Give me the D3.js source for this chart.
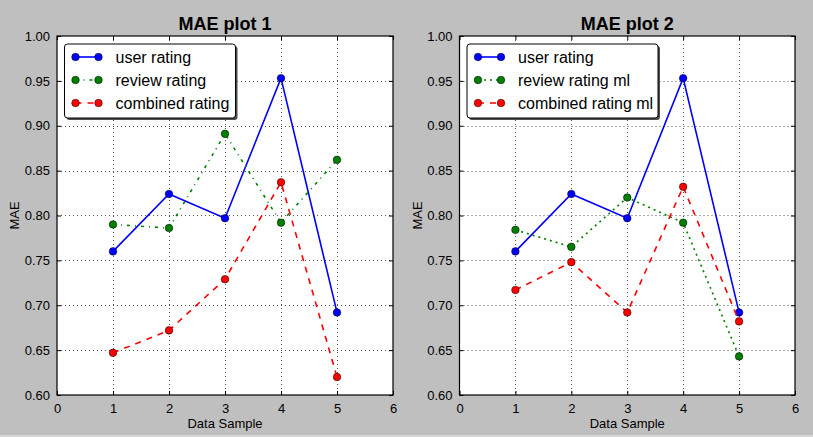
<!DOCTYPE html>
<html><head><meta charset="utf-8">
<script src="https://cdn.jsdelivr.net/npm/d3@7"></script>
<style>html,body{margin:0;padding:0;background:#bfbfbf;}svg{display:block;font-family:"Liberation Sans",Arial,sans-serif;}</style>
</head><body>
<script>
const samples = [1, 2, 3, 4, 5];
const xTicks = [0, 1, 2, 3, 4, 5, 6];
const yTicks = [0.60, 0.65, 0.70, 0.75, 0.80, 0.85, 0.90, 0.95, 1.00];
const titles = ["MAE plot 1", "MAE plot 2"];
const userRating = [0.760, 0.824, 0.797, 0.953, 0.692];
const reviewRating = [0.790, 0.786, 0.891, 0.792, 0.862];
const combinedRating = [0.647, 0.672, 0.729, 0.837, 0.620];
const userRating2 = [0.760, 0.824, 0.797, 0.953, 0.692];
const reviewRatingMl = [0.784, 0.765, 0.820, 0.792, 0.643];
const combinedRatingMl = [0.717, 0.748, 0.692, 0.832, 0.682];
const names1 = ["user rating", "review rating", "combined rating"];
const names2 = ["user rating", "review rating ml", "combined rating ml"];

const W = 813, H = 437;
const svg = d3.select("body").append("svg").attr("width", W).attr("height", H);
svg.append("rect").attr("width", W).attr("height", H).attr("fill", "#bfbfbf");
svg.append("rect").attr("y", H - 2).attr("width", W).attr("height", 2).attr("fill", "#d6d6d6");

const panels = [
  {left: 57, right: 393, title: titles[0], lw: 171, series: [
    {name: names1[0], vals: userRating, color: "#0000ff", dash: null},
    {name: names1[1], vals: reviewRating, color: "#007f00", dash: "3,5,1,5"},
    {name: names1[2], vals: combinedRating, color: "#ff0000", dash: "6,6"}]},
  {left: 459.5, right: 795, title: titles[1], lw: 191, series: [
    {name: names2[0], vals: userRating2, color: "#0000ff", dash: null},
    {name: names2[1], vals: reviewRatingMl, color: "#007f00", dash: "2,4"},
    {name: names2[2], vals: combinedRatingMl, color: "#ff0000", dash: "6,6"}]}
];
const plotTop = 36, plotBottom = 395;

panels.forEach(p => {
  const x = d3.scaleLinear().domain([0, 6]).range([p.left, p.right]);
  const y = d3.scaleLinear().domain([0.6, 1.0]).range([plotBottom, plotTop]);
  const g = svg.append("g");
  g.append("rect").attr("x", p.left).attr("y", plotTop).attr("width", p.right - p.left).attr("height", plotBottom - plotTop).attr("fill", "#fff");
  // grid
  g.selectAll(".vg").data(xTicks.slice(1, -1)).join("line")
    .attr("x1", d => Math.round(x(d)) + 0.5).attr("x2", d => Math.round(x(d)) + 0.5)
    .attr("y1", plotTop).attr("y2", plotBottom).attr("stroke", "#555").attr("stroke-width", 1).attr("stroke-dasharray", "1,3");
  g.selectAll(".hg").data(yTicks.slice(1, -1)).join("line")
    .attr("y1", d => Math.round(y(d)) + 0.5).attr("y2", d => Math.round(y(d)) + 0.5)
    .attr("x1", p.left).attr("x2", p.right).attr("stroke", "#555").attr("stroke-width", 1).attr("stroke-dasharray", "1,3");
  // axes (inward ticks on all sides)
  const fmt = d3.format(".2f");
  const ax = [
    g.append("g").attr("transform", `translate(0,${plotBottom})`).call(d3.axisBottom(x).tickValues(xTicks).tickFormat(d3.format("d")).tickSizeInner(-4).tickSizeOuter(0).tickPadding(9)),
    g.append("g").attr("transform", `translate(0,${plotTop})`).call(d3.axisTop(x).tickValues(xTicks).tickFormat("").tickSizeInner(-4).tickSizeOuter(0)),
    g.append("g").attr("transform", `translate(${p.left},0)`).call(d3.axisLeft(y).tickValues(yTicks).tickFormat(fmt).tickSizeInner(-4).tickSizeOuter(0).tickPadding(7)),
    g.append("g").attr("transform", `translate(${p.right},0)`).call(d3.axisRight(y).tickValues(yTicks).tickFormat("").tickSizeInner(-4).tickSizeOuter(0))
  ];
  ax.forEach(a => {
    a.select(".domain").remove();
    a.selectAll("line").attr("stroke", "#000");
    a.selectAll("text").attr("fill", "#000").attr("font-size", 13).attr("font-family", "'Liberation Sans',Arial,sans-serif");
  });
  // frame
  g.append("rect").attr("x", p.left).attr("y", plotTop).attr("width", p.right - p.left).attr("height", plotBottom - plotTop)
    .attr("fill", "none").attr("stroke", "#000").attr("stroke-width", 1.2);
  // title and labels
  g.append("text").attr("x", (p.left + p.right) / 2).attr("y", 30).attr("text-anchor", "middle")
    .attr("font-size", 18).attr("font-weight", "bold").text(p.title);
  g.append("text").attr("x", (p.left + p.right) / 2).attr("y", 428).attr("text-anchor", "middle")
    .attr("font-size", 13).text("Data Sample");
  g.append("text").attr("transform", `translate(${p.left - 38},${(plotTop + plotBottom) / 2}) rotate(-90)`).attr("text-anchor", "middle")
    .attr("font-size", 13).text("MAE");
  // series
  const line = d3.line().x((d, i) => x(samples[i])).y(d => y(d));
  p.series.forEach(s => {
    g.append("path").datum(s.vals).attr("d", line).attr("fill", "none").attr("stroke", s.color)
      .attr("stroke-width", 1.6).attr("stroke-dasharray", s.dash);
    g.selectAll(null).data(s.vals).join("circle").attr("cx", (d, i) => x(samples[i])).attr("cy", d => y(d))
      .attr("r", 3.8).attr("fill", s.color).attr("stroke", "#000").attr("stroke-width", 0.5);
  });
  // legend
  const lx = p.left + 7.5, ly = 44;
  const lg = g.append("g");
  lg.append("rect").attr("x", lx + 2).attr("y", ly + 2).attr("width", p.lw).attr("height", 74).attr("rx", 3).attr("fill", "#4d4d4d");
  lg.append("rect").attr("x", lx).attr("y", ly).attr("width", p.lw).attr("height", 74).attr("rx", 3).attr("fill", "#fff").attr("stroke", "#000").attr("stroke-width", 1);
  p.series.forEach((s, i) => {
    const yy = ly + 13 + i * 23;
    lg.append("line").attr("x1", lx + 11).attr("x2", lx + 34).attr("y1", yy).attr("y2", yy)
      .attr("stroke", s.color).attr("stroke-width", 1.6).attr("stroke-dasharray", s.dash);
    [lx + 11, lx + 34].forEach(cx => lg.append("circle").attr("cx", cx).attr("cy", yy).attr("r", 3.8)
      .attr("fill", s.color).attr("stroke", "#000").attr("stroke-width", 0.5));
    lg.append("text").attr("x", lx + 51).attr("y", yy + 5.5).attr("font-size", 16).text(s.name);
  });
});
</script>
</body></html>
